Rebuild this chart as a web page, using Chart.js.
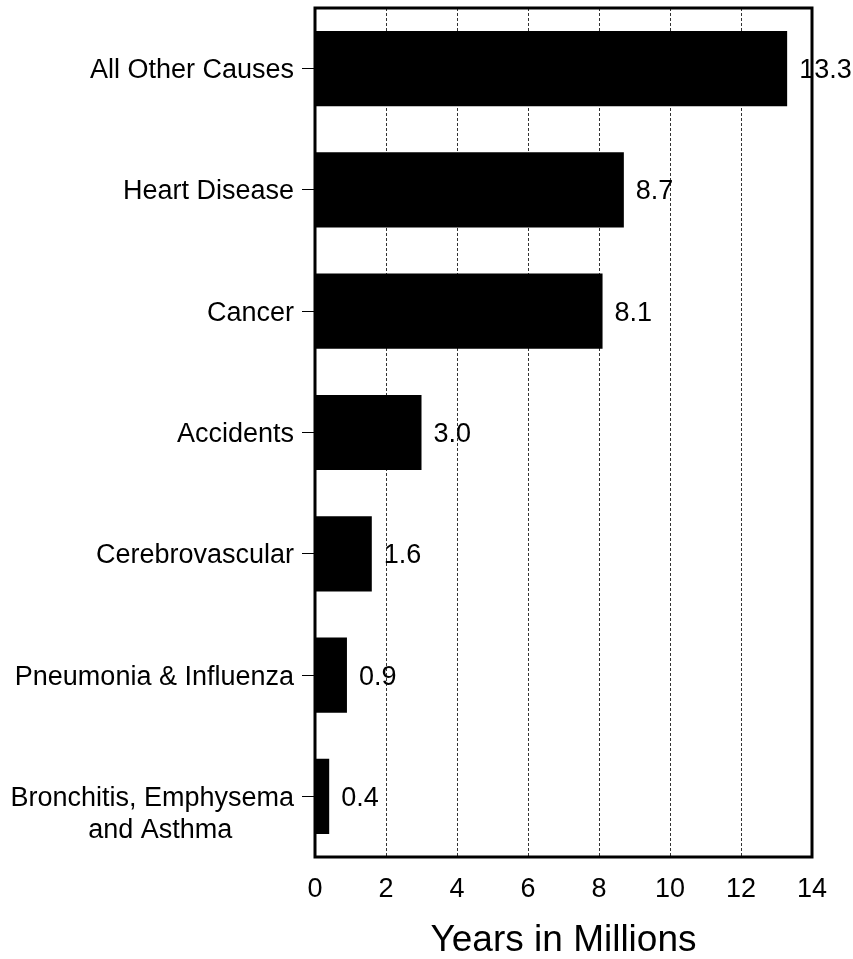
<!DOCTYPE html>
<html>
<head>
<meta charset="utf-8">
<script src="https://cdn.jsdelivr.net/npm/chart.js@4/dist/chart.umd.min.js"></script>
<style>
  html, body { margin: 0; padding: 0; background: #fff; }
  #wrap { width: 853px; height: 959px; }
</style>
</head>
<body>
<div id="wrap"><canvas id="chart"></canvas></div>
<script>
// Years of potential life lost, in millions
const causes = [
  ["All Other Causes"],
  ["Heart Disease"],
  ["Cancer"],
  ["Accidents"],
  ["Cerebrovascular"],
  ["Pneumonia & Influenza"],
  ["Bronchitis, Emphysema", "and Asthma"]
];
const years = [13.3, 8.7, 8.1, 3.0, 1.6, 0.9, 0.4];
const xTicks = [0, 2, 4, 6, 8, 10, 12, 14];

const FONT = '"Liberation Sans", Arial, sans-serif';

// frame round the plot area
const framePlugin = {
  id: "frame",
  afterDraw(chart) {
    const a = chart.chartArea, ctx = chart.ctx;
    ctx.save();
    ctx.lineWidth = 3;
    ctx.strokeStyle = "#000";
    ctx.strokeRect(a.left, a.top, a.right - a.left, a.bottom - a.top);
    ctx.restore();
  }
};

// value labels right of each bar
const valuePlugin = {
  id: "values",
  afterDatasetsDraw(chart) {
    const ctx = chart.ctx;
    const meta = chart.getDatasetMeta(0);
    ctx.save();
    ctx.font = "27px " + FONT;
    ctx.fillStyle = "#000";
    ctx.textAlign = "left";
    ctx.textBaseline = "middle";
    meta.data.forEach((bar, i) => {
      ctx.fillText(years[i].toFixed(1), bar.x + 12, bar.y + 2);
    });
    ctx.restore();
  }
};

// category labels, first line level with the tick
const catPlugin = {
  id: "cats",
  afterDraw(chart) {
    const ctx = chart.ctx;
    const y = chart.scales.y;
    const right = chart.chartArea.left - 21;
    ctx.save();
    ctx.font = "27px " + FONT;
    ctx.fillStyle = "#000";
    ctx.textBaseline = "middle";
    causes.forEach((lines, i) => {
      const py = y.getPixelForValue(i);
      ctx.textAlign = "right";
      ctx.fillText(lines[0], right, py + 2);
      if (lines.length > 1) {
        // wrapped part sits roughly centred under the first line
        const w = ctx.measureText(lines[0]).width;
        ctx.textAlign = "center";
        for (let j = 1; j < lines.length; j++) {
          ctx.fillText(lines[j], right - w / 2 + 8, py + 3 + j * 31);
        }
      }
    });
    ctx.restore();
  }
};

new Chart(document.getElementById("chart"), {
  type: "bar",
  data: {
    labels: causes,
    datasets: [{
      data: years,
      backgroundColor: "#000",
      borderWidth: 0,
      barPercentage: 0.62,
      categoryPercentage: 1
    }]
  },
  options: {
    indexAxis: "y",
    responsive: true,
    maintainAspectRatio: false,
    animation: false,
    layout: { padding: { top: 8, right: 41, left: 0, bottom: 0 } },
    plugins: {
      legend: { display: false },
      tooltip: { enabled: false }
    },
    scales: {
      x: {
        min: 0,
        max: 14,
        afterBuildTicks: s => { s.ticks = xTicks.map(v => ({ value: v })); },
        afterFit: s => { s.height = 102; },
        grid: { color: "#333", lineWidth: 1, drawTicks: false },
        border: { display: false, dash: [3, 2] },
        ticks: { color: "#000", font: { family: FONT, size: 27 }, padding: 16, maxRotation: 0 },
        title: {
          display: true,
          text: "Years in Millions",
          color: "#000",
          font: { family: FONT, size: 37, lineHeight: 1 },
          padding: 0
        }
      },
      y: {
        afterFit: s => { s.width = 315; },
        grid: { offset: false, drawOnChartArea: false, drawTicks: true, tickLength: 13, tickColor: "#000", tickWidth: 1 },
        border: { display: false },
        ticks: { display: false }
      }
    }
  },
  plugins: [framePlugin, valuePlugin, catPlugin]
});
</script>
</body>
</html>
